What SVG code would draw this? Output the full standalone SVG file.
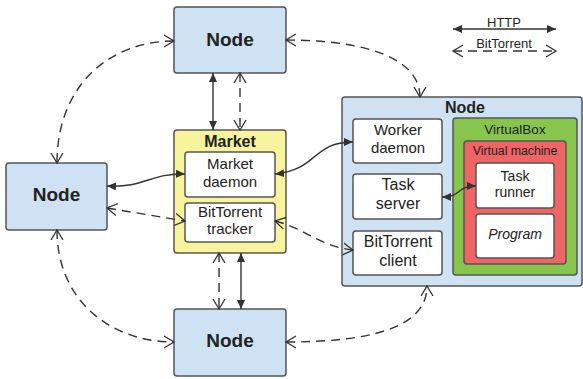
<svg xmlns="http://www.w3.org/2000/svg" width="583" height="379" viewBox="0 0 583 379">
  <style>
    text { font-family: "Liberation Sans", Arial, sans-serif; fill: #222; text-anchor: middle; }
    .node { fill: #cfe2f3; stroke: #555; stroke-width: 1.5; }
    .market { fill: #f8f49d; stroke: #555; stroke-width: 1.5; }
    .vbox { fill: #88c54c; stroke: #555; stroke-width: 1.5; }
    .vm { fill: #ef6464; stroke: #555; stroke-width: 1.5; }
    .inner { fill: #fff; stroke: #555; stroke-width: 1.5; }
    .big { font-size: 19px; font-weight: bold; }
    .title { font-size: 16px; font-weight: bold; }
    .lbl { font-size: 15px; }
    .lbl16 { font-size: 16px; }
    .small { font-size: 14px; }
    .http { fill: none; stroke: #333; stroke-width: 1.4; marker-start: url(#solid); marker-end: url(#solid); }
    .bt { fill: none; stroke: #333; stroke-width: 1.4; stroke-dasharray: 9 6; marker-start: url(#open); marker-end: url(#open); }
  </style>
  <defs>
    <marker id="solid" markerUnits="userSpaceOnUse" markerWidth="10" markerHeight="8" refX="9" refY="4" orient="auto-start-reverse">
      <path d="M0,0 L9,4 L0,8 Z" fill="#333"/>
    </marker>
    <marker id="open" markerUnits="userSpaceOnUse" markerWidth="12" markerHeight="14" refX="10" refY="7" orient="auto-start-reverse">
      <path d="M0,1 L10,7 L0,13" fill="none" stroke="#333" stroke-width="1.3"/>
    </marker>
  </defs>

  <!-- legend -->
  <g id="legend">
    <text x="504" y="27" style="font-size:13px">HTTP</text>
    <path class="http" d="M453,29 L556,29"/>
    <text x="504" y="48" style="font-size:13px">BitTorrent</text>
    <path class="bt" d="M453,51 L556,51"/>
  </g>

  <!-- peers -->
  <g id="node-top">
    <rect class="node" x="174" y="7" width="112" height="66" rx="3"/>
    <text class="big" x="230" y="46">Node</text>
  </g>
  <g id="node-left">
    <rect class="node" x="6" y="163" width="101" height="67" rx="3"/>
    <text class="big" x="56.5" y="201">Node</text>
  </g>
  <g id="node-bottom">
    <rect class="node" x="174" y="309" width="112" height="67" rx="3"/>
    <text class="big" x="230" y="347">Node</text>
  </g>

  <!-- market server -->
  <g id="market">
    <rect class="market" x="174" y="130" width="112" height="123" rx="3"/>
    <text class="title" x="230" y="147">Market</text>
  </g>
  <g id="market-daemon">
    <rect class="inner" x="185" y="152" width="90" height="45" rx="3"/>
    <text class="lbl" x="230" y="169">Market</text>
    <text class="lbl" x="230" y="187">daemon</text>
  </g>
  <g id="bt-tracker">
    <rect class="inner" x="185" y="203" width="90" height="39" rx="3"/>
    <text class="lbl" x="230" y="217">BitTorrent</text>
    <text class="lbl" x="230" y="234">tracker</text>
  </g>

  <!-- worker node -->
  <g id="worker-node">
    <rect class="node" x="342" y="97" width="240" height="189" rx="3"/>
    <text class="title" x="465" y="113">Node</text>
  </g>
  <g id="worker-daemon">
    <rect class="inner" x="353" y="119" width="89" height="44" rx="3"/>
    <text class="lbl" x="398" y="135">Worker</text>
    <text class="lbl" x="398" y="153">daemon</text>
  </g>
  <g id="task-server">
    <rect class="inner" x="353" y="174" width="89" height="45" rx="3"/>
    <text class="lbl16" x="398" y="190">Task</text>
    <text class="lbl16" x="398" y="209">server</text>
  </g>
  <g id="bt-client">
    <rect class="inner" x="353" y="231" width="89" height="44" rx="3"/>
    <text class="lbl16" x="398" y="247">BitTorrent</text>
    <text class="lbl16" x="398" y="266">client</text>
  </g>
  <g id="virtualbox">
    <rect class="vbox" x="453" y="118" width="124" height="157" rx="3"/>
    <text x="515" y="134" style="font-size:13.5px">VirtualBox</text>
  </g>
  <g id="virtual-machine">
    <rect class="vm" x="464" y="141" width="102" height="123" rx="3"/>
    <text x="515" y="155" style="font-size:12.3px">Virtual machine</text>
  </g>
  <g id="task-runner">
    <rect class="inner" x="476" y="163" width="78" height="45" rx="3"/>
    <text class="small" x="515" y="181">Task</text>
    <text class="small" x="515" y="197">runner</text>
  </g>
  <g id="program">
    <rect class="inner" x="476" y="214" width="78" height="44" rx="3"/>
    <text class="small" x="515" y="239" style="font-style:italic">Program</text>
  </g>

  <!-- connectors -->
  <g id="connectors">
    <!-- HTTP -->
    <path class="http" d="M213,73 L213,130"/>
    <path class="http" d="M241,253 L241,309"/>
    <path class="http" d="M107,186 C145,188 150,173 185,174"/>
    <path class="http" d="M275,174 C318,170 312,142 353,142"/>
    <path class="http" d="M442,197 C462,197 456,186 476,186"/>
    <!-- BitTorrent -->
    <path class="bt" d="M240,73 L240,130"/>
    <path class="bt" d="M219,253 L219,309"/>
    <path class="bt" d="M107,208 L185,221"/>
    <path class="bt" d="M275,221 C305,228 318,246 353,250"/>
    <path class="bt" d="M174,41 C110,41 57,85 57,163"/>
    <path class="bt" d="M57,230 C57,300 110,342 174,342"/>
    <path class="bt" d="M286,40 C370,40 420,60 420,97"/>
    <path class="bt" d="M286,342 C390,342 427,320 427,286"/>
  </g>
</svg>
